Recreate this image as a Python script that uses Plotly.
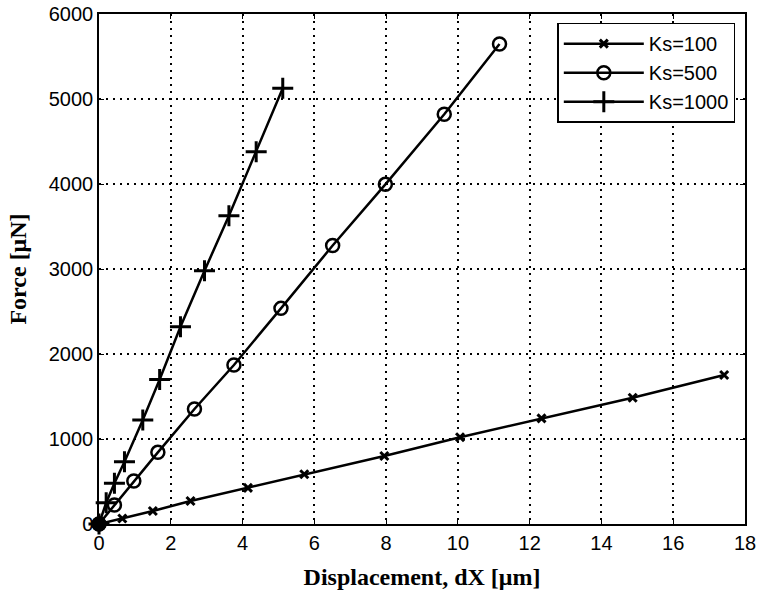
import plotly.graph_objects as go

# Force vs. displacement for three spring stiffness values
dx_ks100 = [0.0, 0.65, 1.5, 2.55, 4.15, 5.72, 7.95, 10.06, 12.33, 14.87, 17.42]
f_ks100 = [0, 65, 153, 270, 425, 585, 800, 1020, 1243, 1486, 1753]

dx_ks500 = [0.0, 0.43, 0.97, 1.64, 2.66, 3.76, 5.07, 6.51, 7.98, 9.62, 11.16]
f_ks500 = [0, 224, 506, 843, 1353, 1871, 2537, 3276, 3996, 4820, 5647]

dx_ks1000 = [0.0, 0.2, 0.43, 0.71, 1.22, 1.69, 2.27, 2.94, 3.62, 4.38, 5.12]
f_ks1000 = [0, 250, 479, 733, 1224, 1700, 2320, 2980, 3627, 4380, 5126]

labels = ["Ks=100", "Ks=500", "Ks=1000"]

x_ticks = list(range(0, 19, 2))
y_ticks = list(range(0, 6001, 1000))

fig = go.Figure()

fig.add_trace(go.Scatter(
    x=dx_ks100, y=f_ks100, name=labels[0], mode="lines+markers",
    line=dict(color="black", width=2.5),
    marker=dict(symbol="x-thin", size=8, line=dict(color="black", width=3)),
    cliponaxis=False,
))
fig.add_trace(go.Scatter(
    x=dx_ks500, y=f_ks500, name=labels[1], mode="lines+markers",
    line=dict(color="black", width=2.5),
    marker=dict(symbol="circle-open", size=13, color="black",
                line=dict(color="black", width=2.5)),
    cliponaxis=False,
))
fig.add_trace(go.Scatter(
    x=dx_ks1000, y=f_ks1000, name=labels[2], mode="lines+markers",
    line=dict(color="black", width=2.5),
    marker=dict(symbol="cross-thin", size=15, line=dict(color="black", width=3)),
    cliponaxis=False,
))
# Shared starting point of all three curves
fig.add_trace(go.Scatter(
    x=[dx_ks100[0]], y=[f_ks100[0]], mode="markers", showlegend=False,
    marker=dict(symbol="circle", size=15, color="black"),
    cliponaxis=False,
))

axis_common = dict(
    showline=True, linecolor="black", linewidth=1.5, mirror="allticks",
    ticks="inside", ticklen=5, tickcolor="black", tickwidth=1,
    showgrid=True, gridcolor="black", gridwidth=1.5, griddash="1.5px,5.5px",
    zeroline=False, automargin=False,
    tickfont=dict(family="Liberation Sans, Arial", size=20, color="black"),
)

title_font = dict(family="Liberation Serif, Times New Roman", size=24,
                  color="#000000", weight="bold")

fig.update_xaxes(
    range=[0, 18], tickvals=x_ticks, ticktext=[str(v) for v in x_ticks],
    title=dict(text="Displacement, dX [μm]", font=title_font),
    **axis_common,
)
fig.update_yaxes(
    range=[0, 6000], tickvals=y_ticks, ticktext=[str(v) for v in y_ticks],
    title=dict(text="Force [μN]", font=title_font),
    **axis_common,
)

fig.update_layout(
    width=765, height=590,
    margin=dict(l=99, r=20, t=14, b=66),
    paper_bgcolor="white", plot_bgcolor="white",
    legend=dict(
        x=0.985, y=0.983, xanchor="right", yanchor="top",
        bgcolor="white", bordercolor="black", borderwidth=1.5,
        font=dict(family="Liberation Sans, Arial", size=20, color="black"),
        tracegroupgap=0, itemwidth=80,
    ),
)

fig.write_html("out.html")
